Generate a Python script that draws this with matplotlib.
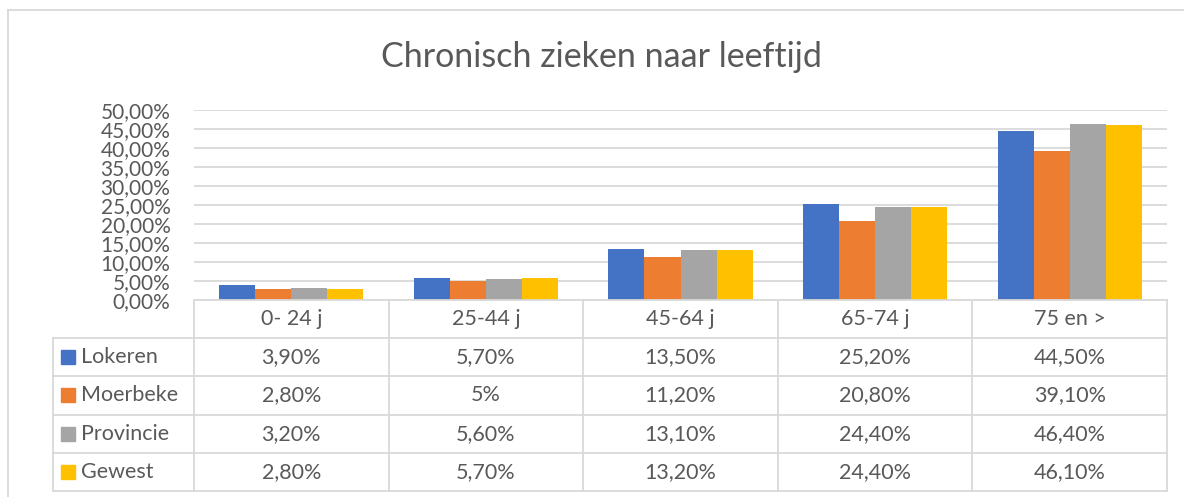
import matplotlib
matplotlib.use('Agg')
import matplotlib.pyplot as plt
from matplotlib.patches import Rectangle
from matplotlib.ticker import FuncFormatter
import numpy as np

categories = ['0- 24 j', '25-44 j', '45-64 j', '65-74 j', '75 en >']
series = ['Lokeren', 'Moerbeke', 'Provincie', 'Gewest']
lokeren = [3.9, 5.7, 13.5, 25.2, 44.5]
moerbeke = [2.8, 5.0, 11.2, 20.8, 39.1]
provincie = [3.2, 5.6, 13.1, 24.4, 46.4]
gewest = [2.8, 5.7, 13.2, 24.4, 46.1]
cell_labels = [
    ['3,90%', '5,70%', '13,50%', '25,20%', '44,50%'],
    ['2,80%', '5%', '11,20%', '20,80%', '39,10%'],
    ['3,20%', '5,60%', '13,10%', '24,40%', '46,40%'],
    ['2,80%', '5,70%', '13,20%', '24,40%', '46,10%'],
]
colors = ['#4472C4', '#ED7D31', '#A5A5A5', '#FFC000']

plt.rcParams['font.family'] = ['Lato', 'DejaVu Sans']
TXT = '#595959'
GRID = '#d9d9d9'

W, H = 1184, 497
fig = plt.figure(figsize=(W / 100, H / 100), dpi=100)

# plot area in pixels: x 194..1167, y 110..300
ax = fig.add_axes([194 / W, 1 - 300 / H, 973 / W, 190 / H])
x = np.arange(len(categories))
bw = 0.185
for i, (vals, c) in enumerate(zip([lokeren, moerbeke, provincie, gewest], colors)):
    ax.bar(x + (i - 1.5) * bw, vals, bw, color=c, zorder=3)
ax.set_xlim(-0.5, len(categories) - 0.5)
ax.set_ylim(0, 50)
ax.set_yticks(np.arange(0, 51, 5))
ax.yaxis.set_major_formatter(FuncFormatter(lambda v, p: f'{v:.2f}%'.replace('.', ',')))
ax.tick_params(axis='y', length=0, pad=17, labelsize=15, labelcolor=TXT)
ax.set_xticks([])
ax.grid(axis='y', color=GRID, lw=1.3, zorder=0)
for s in ax.spines.values():
    s.set_visible(False)

# overlay in pixel coordinates for frame, title and data table
ov = fig.add_axes([0, 0, 1, 1], zorder=5)
ov.set_xlim(0, W)
ov.set_ylim(H, 0)
ov.axis('off')
ov.patch.set_alpha(0)

ov.plot([8, 8], [10, H], color=GRID, lw=1.3)
ov.plot([8, W], [10, 10], color=GRID, lw=1.3)

ov.text(601, 57, 'Chronisch zieken naar leeftijd', fontsize=24.5,
        color=TXT, ha='center', va='center')

to_px = lambda xd: ov.transData.inverted().transform(ax.transData.transform((xd, 0)))[0]
edges = [to_px(e) for e in np.arange(-0.5, len(categories), 1.0)]
centers = [to_px(c) for c in x]
row_y = [300, 337.5, 376, 414.5, 453, 491]
left = 53
fs = 15.5

lw = 1.3
for ex in edges:
    ov.plot([ex, ex], [row_y[0], row_y[-1]], color=GRID, lw=lw)
ov.plot([left, left], [row_y[1], row_y[-1]], color=GRID, lw=lw)
ov.plot([edges[0], edges[-1]], [row_y[0], row_y[0]], color=GRID, lw=lw)
for ry in row_y[1:]:
    ov.plot([left, edges[-1]], [ry, ry], color=GRID, lw=lw)

for cx, cat in zip(centers, categories):
    ov.text(cx, (row_y[0] + row_y[1]) / 2, cat, fontsize=fs, color=TXT,
            ha='center', va='center')

for r, (name, c) in enumerate(zip(series, colors)):
    yc = (row_y[r + 1] + row_y[r + 2]) / 2
    ov.add_patch(Rectangle((61, yc - 7), 14, 14, color=c))
    ov.text(81, yc, name, fontsize=fs, color=TXT, ha='left', va='center')
    for cx, lab in zip(centers, cell_labels[r]):
        ov.text(cx, yc, lab, fontsize=fs, color=TXT, ha='center', va='center')

fig.savefig('out.png', dpi=100, facecolor='white')
